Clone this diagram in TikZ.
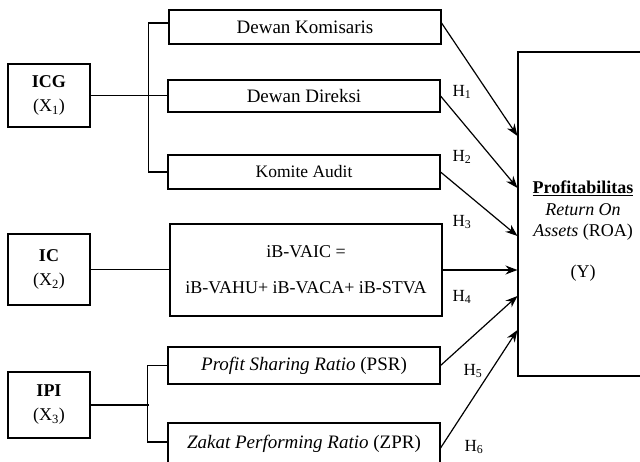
\documentclass[tikz,border=0pt]{standalone}
\usepackage{fontspec}
\setmainfont{Liberation Serif}
\usetikzlibrary{arrows.meta}

\begin{document}
\begin{tikzpicture}[x=1pt,y=-1pt]

\useasboundingbox (0,0) rectangle (640,462);

% independent variables
\begin{scope}[
    every node/.style={
        draw,
        line width=1.1pt,
        align=center,
        inner sep=0pt,
        minimum width=82pt,
        font=\fontsize{18}{24}\selectfont}]

    \node[minimum height=63pt] (icg) at (49,95.5) {\textbf{ICG}\\(X\textsubscript{1})};
    \node[minimum height=71pt] (ic) at (49,269.5) {\textbf{IC}\\(X\textsubscript{2})};
    \node[minimum height=66pt] (ipi) at (49,405) {\textbf{IPI}\\(X\textsubscript{3})};
\end{scope}


% indicators
\begin{scope}[
    every node/.style={
        draw,
        line width=1.1pt,
        align=center,
        inner sep=0pt,
        minimum width=272pt,
        font=\fontsize{19}{24}\selectfont}]

    \node[minimum height=34pt] (dewankom) at (305,27) {Dewan Komisaris};
    \node[minimum height=32pt] (dewandir) at (304,96) {Dewan Direksi};
    \node[minimum height=34pt, font=\fontsize{17.5}{22}\selectfont] (komite) at (304,172) {Komite Audit};
    \node[minimum height=92pt, font=\fontsize{18}{36}\selectfont] (vaic) at (306,270) {iB-VAIC =\\iB-VAHU+ iB-VACA+ iB-STVA};
    \node[minimum height=37pt] (psr) at (304,365.5) {\textit{Profit Sharing Ratio} (PSR)};
    \node[minimum height=46pt, text depth=8pt] (zpr) at (304,446) {\textit{Zakat Performing Ratio} (ZPR)};
\end{scope}


% dependent variable
\node[draw, line width=1.1pt, minimum width=130pt, minimum height=324pt] (roa) at (583,214) {};
\node[align=center, font=\fontsize{18}{21.5}\selectfont] (roatext) at (583,231)
    {\underline{\textbf{Profitabilitas}}\\\textit{Return On}\\\textit{Assets} (ROA)\\[19pt](Y)};


% brackets
\begin{scope}[line width=1.1pt]
    \draw (icg.east) -- (icg.east -| dewandir.west);
    \draw ([yshift=4pt]dewankom.west) -- ++(-20pt,0) |- (komite.west);
    \draw (ic.east) -- (ic.east -| vaic.west);
    \draw (ipi.east) -- ++(58pt,0);
    \draw (psr.west) -- ++(-20pt,0) |- ([yshift=4pt]zpr.west);
\end{scope}


% hypotheses
\begin{scope}[every node/.style={font=\fontsize{17}{20}\selectfont}]
    \node (h1) at (462,92) {H\textsubscript{1}};
    \node (h2) at (462,157) {H\textsubscript{2}};
    \node (h3) at (462,222) {H\textsubscript{3}};
    \node (h4) at (462,297) {H\textsubscript{4}};
    \node (h5) at (473,371) {H\textsubscript{5}};
    \node (h6) at (474,447) {H\textsubscript{6}};
\end{scope}


\begin{scope}[>={Stealth[black,length=12pt,width=9pt]},
              every edge/.style={draw,line width=1.2pt}]

    \path [->] ([yshift=4pt]dewankom.east) edge ([yshift=78pt]roa.west);
    \path [->] (dewandir.east) edge ([yshift=26pt]roa.west);
    \path [->] (komite.east) edge ([yshift=-22pt]roa.west);
    \path [->] (vaic.east) edge ([yshift=-56pt]roa.west);
    \path [->] (psr.east) edge ([yshift=-82pt]roa.west);
    \path [->] ([yshift=-2pt]zpr.east) edge ([yshift=-116pt]roa.west);

\end{scope}
\end{tikzpicture}
\end{document}
